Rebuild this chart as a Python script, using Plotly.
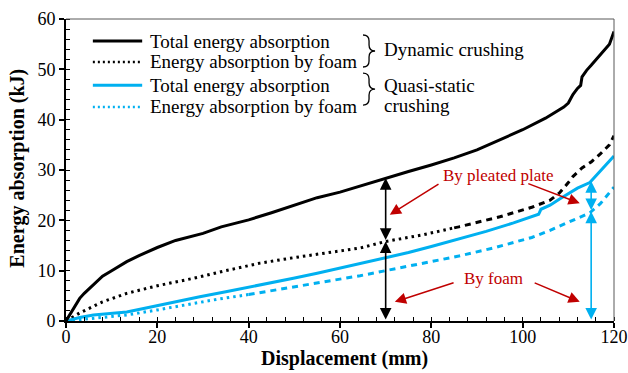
import numpy as np
import plotly.graph_objects as go

# Energy absorption curves (displacement in mm, energy in kJ)
dyn_total_x = [0, 1, 2, 3, 4, 6, 8, 10, 13.3, 16, 20, 24, 28, 30, 34, 40, 45, 50, 55, 60,
               65, 70, 75, 80, 85, 90, 95, 100, 105, 109, 110, 111, 112, 112.7, 113, 114,
               115, 117, 119, 120]
dyn_total_y = [0, 1.5, 3.2, 4.5, 5.5, 7.3, 8.9, 10.0, 11.8, 13.0, 14.6, 16.0, 16.9, 17.4,
               18.7, 20.1, 21.5, 23.0, 24.5, 25.6, 27.0, 28.4, 29.7, 31.0, 32.4, 34.0, 36.0,
               38.0, 40.3, 42.5, 43.3, 45.0, 46.2, 46.8, 48.5, 49.8, 50.8, 52.8, 55.0, 57.5]

dyn_foam_x = [0, 3, 8, 13.3, 20, 28, 35, 42.5, 50, 57, 64.4, 70, 78, 86, 95, 102, 106,
              108, 110, 111, 113, 115, 117, 119, 120]
dyn_foam_y = [0, 1.6, 3.8, 5.5, 7.0, 8.5, 10.0, 11.5, 12.6, 13.5, 14.5, 15.8, 17.1, 18.7,
              20.7, 22.6, 24.0, 25.4, 27.5, 28.7, 30.4, 31.6, 33.2, 35.0, 36.8]

qs_total_x = [0, 3, 6, 10, 13.3, 17, 20.6, 25, 29.3, 35, 39.6, 45, 49.8, 55, 60, 64.4, 70,
              75, 80, 86, 92, 98, 102, 103.5, 104, 106, 108, 110, 112, 114.7, 116, 118, 120]
qs_total_y = [0, 0.7, 1.2, 1.6, 1.8, 2.5, 3.2, 4.0, 4.8, 5.8, 6.6, 7.6, 8.5, 9.5, 10.5,
              11.4, 12.6, 13.6, 14.8, 16.3, 17.8, 19.5, 20.7, 21.2, 22.2, 23.0, 24.2, 25.3,
              26.4, 27.5, 28.8, 30.6, 32.8]

qs_foam_x = [0, 5, 10, 13.3, 20, 27.9, 33, 39.6, 45, 49.8, 55, 60, 64.4, 70, 78, 86, 94,
             102, 106, 110, 112, 114.7, 117, 119, 120]
qs_foam_y = [0, 0.5, 0.9, 1.2, 2.2, 3.5, 4.3, 5.2, 6.0, 6.8, 7.6, 8.3, 9.0, 10.0, 11.4,
             12.9, 14.6, 16.6, 18.0, 19.6, 20.4, 21.5, 23.3, 25.5, 26.6]

# Displacements where the contributions are marked with arrows
dyn_mark_x = 70
qs_mark_x = 115

x_ticks = [0, 20, 40, 60, 80, 100, 120]
y_ticks = [0, 10, 20, 30, 40, 50, 60]

x_title = "Displacement (mm)"
y_title = "Energy absorption (kJ)"
legend_labels = ["Total energy absorption", "Energy absorption by foam",
                 "Total energy absorption", "Energy absorption by foam"]
group_labels = ["Dynamic crushing", "Quasi-static", "crushing"]

BLACK = "#000000"
BLUE = "#00B0F0"
RED = "#C00000"
FONT = "Liberation Serif"

fig = go.Figure()


def split_at(xs, ys, xb):
    """Split a series at displacement xb so the two parts can use different dashes."""
    xs = np.asarray(xs, float)
    ys = np.asarray(ys, float)
    yb = float(np.interp(xb, xs, ys))
    m1 = xs < xb
    m2 = xs > xb
    a = (np.r_[xs[m1], xb], np.r_[ys[m1], yb])
    b = (np.r_[xb, xs[m2]], np.r_[yb, ys[m2]])
    return a, b


# Foam contributions: dotted where data are dense, dashed further on
for xs, ys, color, xb in [(qs_foam_x, qs_foam_y, BLUE, 40),
                          (dyn_foam_x, dyn_foam_y, BLACK, 85)]:
    (xa, ya), (xc, yc) = split_at(xs, ys, xb)
    fig.add_trace(go.Scatter(x=xa, y=ya, mode="lines", showlegend=False,
                             line=dict(color=color, width=3, dash="2.5px,4px")))
    fig.add_trace(go.Scatter(x=xc, y=yc, mode="lines", showlegend=False,
                             line=dict(color=color, width=3, dash="6px,5px")))

fig.add_trace(go.Scatter(x=qs_total_x, y=qs_total_y, mode="lines", showlegend=False,
                         line=dict(color=BLUE, width=3)))
fig.add_trace(go.Scatter(x=dyn_total_x, y=dyn_total_y, mode="lines", showlegend=False,
                         line=dict(color=BLACK, width=3)))

annotations = []


def double_arrow(x, y0, y1, color):
    annotations.append(dict(x=x, y=y1, ax=x, ay=y0, xref="x", yref="y", axref="x",
                            ayref="y", text="", showarrow=True, arrowhead=2,
                            arrowside="end+start", arrowsize=1.45, arrowwidth=1.6,
                            arrowcolor=color, standoff=0, startstandoff=0))


def pointer(x, y, ax, ay):
    annotations.append(dict(x=x, y=y, ax=ax, ay=ay, xref="x", yref="y", axref="x",
                            ayref="y", text="", showarrow=True, arrowhead=2,
                            arrowsize=1.5, arrowwidth=1.5, arrowcolor=RED, standoff=0))


# Foam share and pleated-plate share at the marked displacements
d_foam = float(np.interp(dyn_mark_x, dyn_foam_x, dyn_foam_y))
d_tot = float(np.interp(dyn_mark_x, dyn_total_x, dyn_total_y))
q_foam = float(np.interp(qs_mark_x, qs_foam_x, qs_foam_y))
q_tot = float(np.interp(qs_mark_x, qs_total_x, qs_total_y))
double_arrow(dyn_mark_x, 0, d_foam, BLACK)
double_arrow(dyn_mark_x, d_foam, d_tot, BLACK)
double_arrow(qs_mark_x, 0, q_foam, BLUE)
double_arrow(qs_mark_x, q_foam, q_tot, BLUE)

pointer(70.9, 21.1, 81.9, 27.4)
pointer(112.5, 23.4, 100.9, 27.4)
pointer(72.0, 3.8, 85.2, 7.7)
pointer(112.5, 3.8, 102.3, 7.7)

annotations.append(dict(x=82.2, y=29.0, xref="x", yref="y", text="By pleated plate",
                        showarrow=False, xanchor="left",
                        font=dict(color=RED, size=17, family=FONT)))
annotations.append(dict(x=86.8, y=8.5, xref="x", yref="y", text="By foam",
                        showarrow=False, xanchor="left",
                        font=dict(color=RED, size=17, family=FONT)))

# Axis titles
annotations.append(dict(x=0.509, y=-0.124, xref="paper", yref="paper",
                        text=f"<b>{x_title}</b>", showarrow=False,
                        xanchor="center", yanchor="middle",
                        font=dict(size=20, family=FONT, color="black")))
annotations.append(dict(x=-0.088, y=0.507, xref="paper", yref="paper",
                        text=f"<b>{y_title}</b>", showarrow=False, textangle=-90,
                        xanchor="center", yanchor="middle",
                        font=dict(size=20, family=FONT, color="black")))

# Hand-drawn legend (paper coordinates)
shapes = []
rows_y = [0.927, 0.858, 0.781, 0.709]
styles = [(BLACK, "solid", 3), (BLACK, "2px,3px", 2.5), (BLUE, "solid", 3),
          (BLUE, "2px,3px", 2.5)]
for yy, (c, d, w), lab in zip(rows_y, styles, legend_labels):
    shapes.append(dict(type="line", xref="paper", yref="paper", x0=0.049, x1=0.139,
                       y0=yy, y1=yy, line=dict(color=c, width=w, dash=d)))
    annotations.append(dict(x=0.150, y=yy, xref="paper", yref="paper", text=lab,
                            showarrow=False, xanchor="left", yanchor="middle",
                            font=dict(size=19, family=FONT, color="black")))


def brace(x0, xr, yt, yb):
    xm = (x0 + xr) / 2
    ym = (yt + yb) / 2
    d = 0.02
    return (f"M{x0},{yt} Q{xm},{yt} {xm},{yt - d} L{xm},{ym + d} "
            f"Q{xm},{ym} {xr},{ym} Q{xm},{ym} {xm},{ym - d} "
            f"L{xm},{yb + d} Q{xm},{yb} {x0},{yb}")


shapes.append(dict(type="path", xref="paper", yref="paper",
                   path=brace(0.542, 0.564, 0.947, 0.841),
                   line=dict(color="black", width=1.3)))
shapes.append(dict(type="path", xref="paper", yref="paper",
                   path=brace(0.542, 0.564, 0.821, 0.715),
                   line=dict(color="black", width=1.3)))
for txt, yy in zip(group_labels, [0.900, 0.781, 0.712]):
    annotations.append(dict(x=0.577, y=yy, xref="paper", yref="paper", text=txt,
                            showarrow=False, xanchor="left", yanchor="middle",
                            font=dict(size=19, family=FONT, color="black")))

# Thin frame on top and right
shapes.append(dict(type="line", xref="paper", yref="paper", x0=0, x1=1, y0=1, y1=1,
                   line=dict(color="#595959", width=1)))
shapes.append(dict(type="line", xref="paper", yref="paper", x0=1, x1=1, y0=0, y1=1,
                   line=dict(color="#595959", width=1)))

fig.update_layout(
    width=628, height=373,
    margin=dict(l=66, r=14, t=19, b=52, autoexpand=False),
    paper_bgcolor="white", plot_bgcolor="white",
    font=dict(family=FONT, size=18, color="black"),
    showlegend=False,
    annotations=annotations,
    shapes=shapes,
)
fig.update_xaxes(
    range=[0, 120], tickvals=x_ticks, ticks="outside", ticklen=5, tickwidth=1.5,
    tickcolor="black", showline=True, linecolor="black", linewidth=2, showgrid=False,
    zeroline=False, tickfont=dict(size=18, family=FONT), automargin=False,
    ticklabelstandoff=-7,
    minor=dict(dtick=4, ticks="inside", ticklen=4, tickwidth=1, tickcolor="black",
               showgrid=False),
)
fig.update_yaxes(
    range=[0, 60], tickvals=y_ticks, ticks="outside", ticklen=5, tickwidth=1.5,
    tickcolor="black", showline=True, linecolor="black", linewidth=2, showgrid=False,
    zeroline=False, tickfont=dict(size=18, family=FONT), automargin=False,
    minor=dict(dtick=2, ticks="inside", ticklen=4, tickwidth=1, tickcolor="black",
               showgrid=False),
)

fig.write_html("out.html")
